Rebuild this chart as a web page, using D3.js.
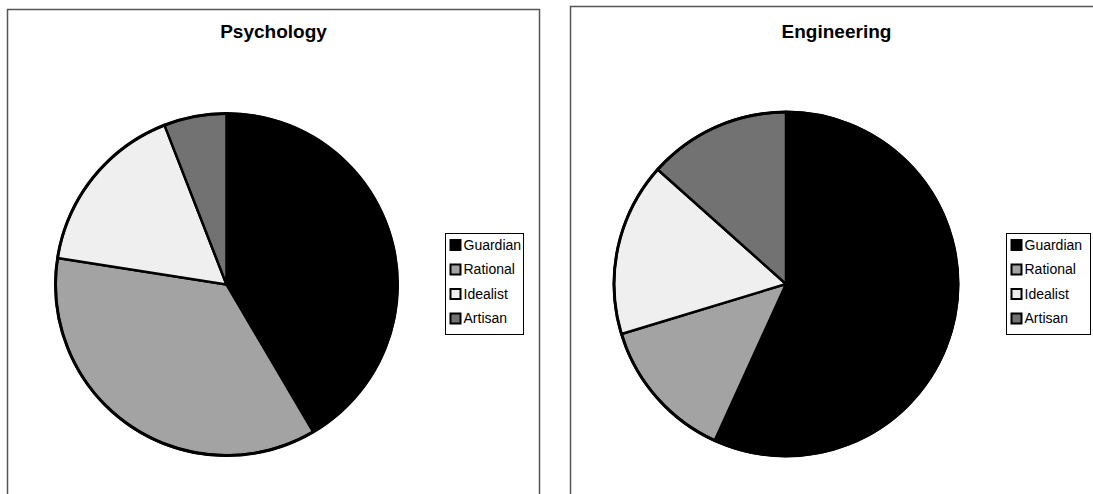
<!DOCTYPE html>
<html>
<head>
<meta charset="utf-8">
<title>Temperament pies</title>
<script src="https://d3js.org/d3.v7.min.js"></script>
<style>
  body { margin: 0; background: #fff; }
  svg { display: block; font-family: Arial, "Liberation Sans", sans-serif; }
</style>
</head>
<body>
<svg width="1093" height="494"></svg>
<script>
// data (percent of each group)
var categories = ["Guardian", "Rational", "Idealist", "Artisan"];
var psychology = [41.5, 35.9, 16.6, 5.9];
var engineering = [56.8, 13.5, 16.3, 13.4];
var colors = ["#000000", "#a3a3a3", "#efefef", "#727272"];

var svg = d3.select("svg");

var panels = [
  { title: "Psychology", values: psychology, x: 7.5, y: 9.5, w: 532, cx: 226.5, cy: 284.5, lx: 445.5, lw: 78, r: 171 },
  { title: "Engineering", values: engineering, x: 570.5, y: 6.5, w: 540, cx: 786, cy: 284, lx: 1006.5, lw: 84, r: 172 }
];

var color = d3.scaleOrdinal().domain(categories).range(colors);
var pie = d3.pie().sort(null).value(function(d) { return d.v; });

panels.forEach(function(p) {
  var g = svg.append("g");

  // panel frame
  g.append("rect")
   .attr("x", p.x).attr("y", p.y)
   .attr("width", p.w).attr("height", 500)
   .attr("fill", "none")
   .attr("stroke", "#555")
   .attr("stroke-width", 1.5);

  // title
  g.append("text")
   .attr("x", p.x + 266)
   .attr("y", 38)
   .attr("text-anchor", "middle")
   .attr("font-size", "19px")
   .attr("font-weight", "bold")
   .text(p.title);

  var data = categories.map(function(c, i) { return { k: c, v: p.values[i] }; });
  var arc = d3.arc().innerRadius(0).outerRadius(p.r);

  var pg = g.append("g").attr("transform", "translate(" + p.cx + "," + p.cy + ")");
  pg.selectAll("path")
    .data(pie(data))
    .enter().append("path")
    .attr("d", arc)
    .attr("fill", function(d) { return color(d.data.k); })
    .attr("stroke", "#000")
    .attr("stroke-width", 2.5)
    .attr("stroke-linejoin", "round");

  // heavier outer rim
  pg.append("circle")
    .attr("r", p.r)
    .attr("fill", "none")
    .attr("stroke", "#000")
    .attr("stroke-width", 3);

  // legend
  var lg = g.append("g");
  lg.append("rect")
    .attr("x", p.lx).attr("y", 233.5)
    .attr("width", p.lw).attr("height", 101)
    .attr("fill", "#fff")
    .attr("stroke", "#000")
    .attr("stroke-width", 1);

  var items = lg.selectAll(".item")
    .data(categories)
    .enter().append("g")
    .attr("transform", function(d, i) { return "translate(" + (p.lx + 5) + "," + (245 + i * 24.5) + ")"; });

  items.append("rect")
    .attr("x", 0).attr("y", -5)
    .attr("width", 10).attr("height", 10)
    .attr("fill", function(d) { return color(d); })
    .attr("stroke", "#000")
    .attr("stroke-width", 2);

  items.append("text")
    .attr("x", 13)
    .attr("y", 0)
    .attr("dy", "0.35em")
    .attr("font-size", "14px")
    .text(function(d) { return d; });
});
</script>
</body>
</html>
